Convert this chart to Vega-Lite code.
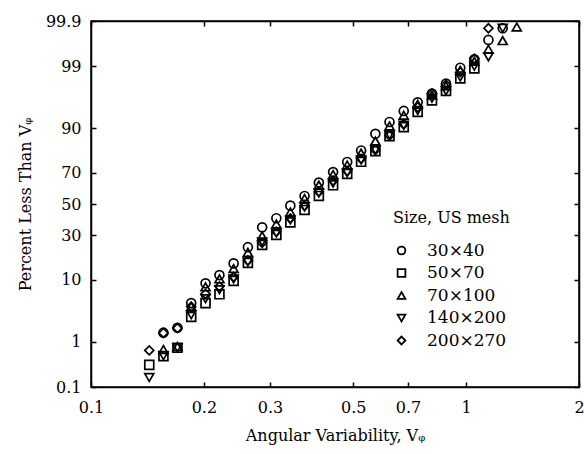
{
  "$schema": "https://vega.github.io/schema/vega-lite/v6.json",
  "width": 488,
  "height": 366,
  "autosize": {"type": "none"},
  "padding": {"left": 91, "top": 21, "right": 5, "bottom": 67},
  "background": "white",
  "config": {
    "font": "DejaVu Serif",
    "view": {"stroke": "black", "strokeWidth": 1.5},
    "axis": {
      "domainColor": "black", "domainWidth": 1.5,
      "tickColor": "black", "tickWidth": 1.5, "tickSize": -5,
      "labelFont": "DejaVu Serif", "labelFontSize": 16, "labelColor": "black",
      "titleFont": "DejaVu Serif", "titleFontSize": 16, "titleFontWeight": "normal", "titleColor": "black",
      "grid": false, "labelOverlap": false, "labelFlush": false
    },
    "legend": {
      "titleFont": "DejaVu Serif", "titleFontSize": 16, "titleFontWeight": "normal", "titleColor": "black",
      "labelFont": "DejaVu Serif", "labelFontSize": 17, "labelColor": "black",
      "symbolStrokeColor": "black", "symbolStrokeWidth": 1.8, "symbolSize": 60, "symbolOpacity": 1,
      "symbolFillColor": "transparent", "labelOffset": 17, "rowPadding": 4.5, "titlePadding": 16
    }
  },
  "data": {"values": [
    {"s": "30×40", "v": 0.156, "p": 1.49},
    {"s": "30×40", "v": 0.170, "p": 1.83},
    {"s": "30×40", "v": 0.185, "p": 4.71},
    {"s": "30×40", "v": 0.202, "p": 9.02},
    {"s": "30×40", "v": 0.220, "p": 11.5},
    {"s": "30×40", "v": 0.240, "p": 15.8},
    {"s": "30×40", "v": 0.262, "p": 23.3},
    {"s": "30×40", "v": 0.286, "p": 34.7},
    {"s": "30×40", "v": 0.312, "p": 40.5},
    {"s": "30×40", "v": 0.340, "p": 48.9},
    {"s": "30×40", "v": 0.371, "p": 55.4},
    {"s": "30×40", "v": 0.405, "p": 64.1},
    {"s": "30×40", "v": 0.442, "p": 70.5},
    {"s": "30×40", "v": 0.482, "p": 76.1},
    {"s": "30×40", "v": 0.525, "p": 81.7},
    {"s": "30×40", "v": 0.573, "p": 88.2},
    {"s": "30×40", "v": 0.625, "p": 91.7},
    {"s": "30×40", "v": 0.682, "p": 94.2},
    {"s": "30×40", "v": 0.743, "p": 95.7},
    {"s": "30×40", "v": 0.811, "p": 96.9},
    {"s": "30×40", "v": 0.884, "p": 97.9},
    {"s": "30×40", "v": 0.965, "p": 98.93},
    {"s": "30×40", "v": 1.052, "p": 99.27},
    {"s": "30×40", "v": 1.147, "p": 99.72},
    {"s": "30×40", "v": 1.252, "p": 99.85},
    {"s": "50×70", "v": 0.143, "p": 0.33},
    {"s": "50×70", "v": 0.156, "p": 0.51},
    {"s": "50×70", "v": 0.170, "p": 0.76},
    {"s": "50×70", "v": 0.185, "p": 2.83},
    {"s": "50×70", "v": 0.202, "p": 4.71},
    {"s": "50×70", "v": 0.220, "p": 6.37},
    {"s": "50×70", "v": 0.240, "p": 9.7},
    {"s": "50×70", "v": 0.262, "p": 16.0},
    {"s": "50×70", "v": 0.286, "p": 24.5},
    {"s": "50×70", "v": 0.312, "p": 30.1},
    {"s": "50×70", "v": 0.340, "p": 37.8},
    {"s": "50×70", "v": 0.371, "p": 46.0},
    {"s": "50×70", "v": 0.405, "p": 55.4},
    {"s": "50×70", "v": 0.442, "p": 62.4},
    {"s": "50×70", "v": 0.482, "p": 69.4},
    {"s": "50×70", "v": 0.525, "p": 76.2},
    {"s": "50×70", "v": 0.573, "p": 81.4},
    {"s": "50×70", "v": 0.625, "p": 87.4},
    {"s": "50×70", "v": 0.682, "p": 90.3},
    {"s": "50×70", "v": 0.743, "p": 94.0},
    {"s": "50×70", "v": 0.811, "p": 96.0},
    {"s": "50×70", "v": 0.884, "p": 97.2},
    {"s": "50×70", "v": 0.965, "p": 98.3},
    {"s": "50×70", "v": 1.052, "p": 98.9},
    {"s": "70×100", "v": 0.156, "p": 0.70},
    {"s": "70×100", "v": 0.170, "p": 0.80},
    {"s": "70×100", "v": 0.185, "p": 4.18},
    {"s": "70×100", "v": 0.202, "p": 8.08},
    {"s": "70×100", "v": 0.220, "p": 10.3},
    {"s": "70×100", "v": 0.240, "p": 13.8},
    {"s": "70×100", "v": 0.262, "p": 20.7},
    {"s": "70×100", "v": 0.286, "p": 29.5},
    {"s": "70×100", "v": 0.312, "p": 36.8},
    {"s": "70×100", "v": 0.340, "p": 44.6},
    {"s": "70×100", "v": 0.371, "p": 53.7},
    {"s": "70×100", "v": 0.405, "p": 62.5},
    {"s": "70×100", "v": 0.442, "p": 69.1},
    {"s": "70×100", "v": 0.482, "p": 74.5},
    {"s": "70×100", "v": 0.525, "p": 80.5},
    {"s": "70×100", "v": 0.573, "p": 85.6},
    {"s": "70×100", "v": 0.625, "p": 90.6},
    {"s": "70×100", "v": 0.682, "p": 93.3},
    {"s": "70×100", "v": 0.743, "p": 95.4},
    {"s": "70×100", "v": 0.811, "p": 96.7},
    {"s": "70×100", "v": 0.884, "p": 97.7},
    {"s": "70×100", "v": 0.965, "p": 98.8},
    {"s": "70×100", "v": 1.052, "p": 99.2},
    {"s": "70×100", "v": 1.147, "p": 99.55},
    {"s": "70×100", "v": 1.252, "p": 99.71},
    {"s": "70×100", "v": 1.365, "p": 99.86},
    {"s": "140×200", "v": 0.143, "p": 0.17},
    {"s": "140×200", "v": 0.156, "p": 0.52},
    {"s": "140×200", "v": 0.170, "p": 0.76},
    {"s": "140×200", "v": 0.185, "p": 3.07},
    {"s": "140×200", "v": 0.202, "p": 5.48},
    {"s": "140×200", "v": 0.220, "p": 7.38},
    {"s": "140×200", "v": 0.240, "p": 10.3},
    {"s": "140×200", "v": 0.262, "p": 16.4},
    {"s": "140×200", "v": 0.286, "p": 26.1},
    {"s": "140×200", "v": 0.312, "p": 31.2},
    {"s": "140×200", "v": 0.340, "p": 39.4},
    {"s": "140×200", "v": 0.371, "p": 48.0},
    {"s": "140×200", "v": 0.405, "p": 57.4},
    {"s": "140×200", "v": 0.442, "p": 63.8},
    {"s": "140×200", "v": 0.482, "p": 70.2},
    {"s": "140×200", "v": 0.525, "p": 77.1},
    {"s": "140×200", "v": 0.573, "p": 81.9},
    {"s": "140×200", "v": 0.625, "p": 87.8},
    {"s": "140×200", "v": 0.682, "p": 90.8},
    {"s": "140×200", "v": 0.743, "p": 94.3},
    {"s": "140×200", "v": 0.811, "p": 96.3},
    {"s": "140×200", "v": 0.884, "p": 97.2},
    {"s": "140×200", "v": 0.965, "p": 98.4},
    {"s": "140×200", "v": 1.052, "p": 99.0},
    {"s": "140×200", "v": 1.147, "p": 99.35},
    {"s": "140×200", "v": 1.252, "p": 99.85},
    {"s": "200×270", "v": 0.143, "p": 0.67},
    {"s": "200×270", "v": 0.156, "p": 1.47},
    {"s": "200×270", "v": 0.170, "p": 1.80},
    {"s": "200×270", "v": 0.185, "p": 4.14},
    {"s": "200×270", "v": 0.202, "p": 6.47},
    {"s": "200×270", "v": 0.220, "p": 8.22},
    {"s": "200×270", "v": 0.240, "p": 10.9},
    {"s": "200×270", "v": 0.262, "p": 17.0},
    {"s": "200×270", "v": 0.286, "p": 25.6},
    {"s": "200×270", "v": 0.312, "p": 32.0},
    {"s": "200×270", "v": 0.340, "p": 40.4},
    {"s": "200×270", "v": 0.371, "p": 48.8},
    {"s": "200×270", "v": 0.405, "p": 58.2},
    {"s": "200×270", "v": 0.442, "p": 65.3},
    {"s": "200×270", "v": 0.482, "p": 71.1},
    {"s": "200×270", "v": 0.525, "p": 77.7},
    {"s": "200×270", "v": 0.573, "p": 81.9},
    {"s": "200×270", "v": 0.625, "p": 87.6},
    {"s": "200×270", "v": 0.682, "p": 91.1},
    {"s": "200×270", "v": 0.743, "p": 94.9},
    {"s": "200×270", "v": 0.811, "p": 96.9},
    {"s": "200×270", "v": 0.884, "p": 97.8},
    {"s": "200×270", "v": 0.965, "p": 98.7},
    {"s": "200×270", "v": 1.052, "p": 99.29},
    {"s": "200×270", "v": 1.147, "p": 99.85}
  ]},
  "transform": [{"calculate": "quantileNormal(datum.p / 100)", "as": "z"}],
  "layer": [
    {
      "mark": {"type": "point", "filled": false, "color": "black", "opacity": 1, "strokeWidth": 1.7, "size": 80},
      "encoding": {
        "x": {
          "field": "v", "type": "quantitative",
          "scale": {"type": "log", "domain": [0.1, 2]},
          "axis": {"values": [0.1, 0.2, 0.3, 0.5, 0.7, 1, 2], "format": "~g", "labelPadding": 17,
                   "title": "Angular Variability, Vᵩ", "titlePadding": 12}
        },
        "y": {
          "field": "z", "type": "quantitative",
          "scale": {"domain": [-3.0902, 3.0902], "nice": false, "zero": false},
          "axis": {"values": [-3.0902, -2.3263, -1.2816, -0.5244, 0, 0.5244, 1.2816, 2.3263, 3.0902],
                   "labelExpr": "format(cumulativeNormal(datum.value) * 100, '.3~r')",
                   "labelPadding": 15, "title": "Percent Less Than Vᵩ", "titlePadding": 12}
        },
        "shape": {
          "field": "s", "type": "nominal",
          "scale": {"domain": ["30×40", "50×70", "70×100", "140×200", "200×270"],
                    "range": ["circle", "square", "triangle-up", "triangle-down", "diamond"]},
          "legend": {"title": "Size, US mesh", "orient": "none", "legendX": 302, "legendY": 189}
        }
      }
    },
    {
      "mark": {"type": "point", "opacity": 0},
      "encoding": {
        "x": {
          "field": "v", "type": "quantitative",
          "scale": {"type": "log", "domain": [0.1, 2]},
          "axis": {"orient": "top", "values": [0.1, 0.2, 0.3, 0.5, 0.7, 1, 2], "labels": false, "title": null}
        },
        "y": {
          "field": "z", "type": "quantitative",
          "scale": {"domain": [-3.0902, 3.0902], "nice": false, "zero": false},
          "axis": {"orient": "right", "values": [-3.0902, -2.3263, -1.2816, -0.5244, 0, 0.5244, 1.2816, 2.3263, 3.0902],
                   "labels": false, "title": null}
        }
      }
    }
  ],
  "resolve": {"axis": {"x": "independent", "y": "independent"}}
}
